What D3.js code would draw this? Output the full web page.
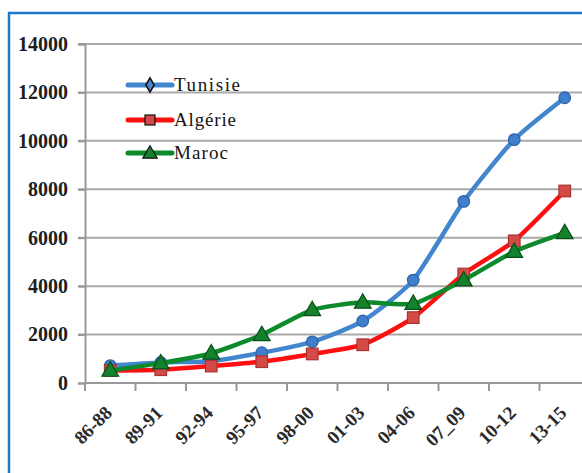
<!DOCTYPE html>
<html>
<head>
<meta charset="utf-8">
<script src="https://cdn.jsdelivr.net/npm/d3@7"></script>
<style>
  html, body { margin: 0; padding: 0; background: #fff; }
  svg { display: block; }
</style>
</head>
<body>
<svg id="chart" width="582" height="473"></svg>
<script>
// Periods (three-year averages)
const periods = ["86-88", "89-91", "92-94", "95-97", "98-00", "01-03", "04-06", "07_09", "10-12", "13-15"];

// Series values
const tunisie = [720, 850, 900, 1250, 1700, 2560, 4250, 7500, 10050, 11780];
const algerie = [520, 550, 700, 880, 1200, 1580, 2700, 4500, 5870, 7930];
const maroc   = [520, 820, 1230, 1990, 3020, 3330, 3280, 4250, 5430, 6200];

// Y axis ticks
const yTicks = [0, 2000, 4000, 6000, 8000, 10000, 12000, 14000];

const seriesNames = ["Tunisie", "Algérie", "Maroc"];

const series = [
  { name: seriesNames[0], values: tunisie, color: "#4286cd", mark: "circle",   fill: "#3f7fcb", stroke: "#2d62a6" },
  { name: seriesNames[1], values: algerie, color: "#ff1010", mark: "square",   fill: "#d44a47", stroke: "#a83431" },
  { name: seriesNames[2], values: maroc,   color: "#0c8a2c", mark: "triangle", fill: "#14822c", stroke: "#0b4d1a" }
];

const serif = "'Liberation Serif', 'DejaVu Serif', serif";
const svg = d3.select("#chart");

// Frame around the chart area
svg.append("rect")
  .attr("x", 9).attr("y", 13)
  .attr("width", 600).attr("height", 500)
  .attr("fill", "none")
  .attr("stroke", "#1f78cf")
  .attr("stroke-width", 2.5);

const x = d3.scaleBand().domain(periods).range([85, 590]);
const y = d3.scaleLinear().domain([0, 14000]).range([383, 44]);

// Horizontal gridlines
svg.append("g").selectAll("line")
  .data(yTicks.filter(d => d > 0))
  .join("line")
  .attr("x1", 78).attr("x2", 582)
  .attr("y1", d => y(d)).attr("y2", d => y(d))
  .attr("stroke", "#a9a9a9")
  .attr("stroke-width", 2);

// Y axis
const yAxis = svg.append("g")
  .attr("transform", "translate(85,0)")
  .call(d3.axisLeft(y).tickValues(yTicks).tickSize(7).tickPadding(10).tickFormat(d3.format("d")));
yAxis.select(".domain").attr("stroke", "#999").attr("stroke-width", 2);
yAxis.selectAll(".tick line").attr("stroke", "#999").attr("stroke-width", 2);
yAxis.selectAll(".tick text")
  .attr("font-family", serif)
  .attr("font-weight", "bold")
  .attr("font-size", 20)
  .attr("fill", "#1e1e1e");

// X axis (category boundaries as ticks)
const xAxisG = svg.append("g").attr("transform", "translate(0,383)");
xAxisG.append("line")
  .attr("x1", 85).attr("x2", 582)
  .attr("stroke", "#999").attr("stroke-width", 2);
xAxisG.selectAll("line.tick")
  .data(periods.concat(["end"]))
  .join("line")
  .attr("class", "tick")
  .attr("x1", (d, i) => x.range()[0] + i * x.bandwidth())
  .attr("x2", (d, i) => x.range()[0] + i * x.bandwidth())
  .attr("y1", 0).attr("y2", 8)
  .attr("stroke", "#999").attr("stroke-width", 2);

xAxisG.selectAll("text")
  .data(periods)
  .join("text")
  .attr("transform", d => `translate(${x(d) + x.bandwidth() / 2 + 3},${31}) rotate(-45)`)
  .attr("text-anchor", "end")
  .attr("font-family", serif)
  .attr("font-weight", "bold")
  .attr("font-size", 19)
  .attr("fill", "#2a2a2a")
  .text(d => d);

// Lines
const line = d3.line()
  .x((d, i) => x(periods[i]) + x.bandwidth() / 2)
  .y(d => y(d))
  .curve(d3.curveCardinal.tension(0.4));

function drawMark(g, type, cx, cy, s, fill, stroke) {
  if (type === "circle") {
    g.append("circle").attr("cx", cx).attr("cy", cy).attr("r", s)
      .attr("fill", fill).attr("stroke", stroke).attr("stroke-width", 1.2);
  } else if (type === "square") {
    g.append("rect").attr("x", cx - s).attr("y", cy - s)
      .attr("width", 2 * s).attr("height", 2 * s)
      .attr("fill", fill).attr("stroke", stroke).attr("stroke-width", 1.2);
  } else {
    const sym = d3.symbol().type(d3.symbolTriangle).size(s * s * 3.6);
    g.append("path").attr("d", sym())
      .attr("transform", `translate(${cx},${cy + 1})`)
      .attr("fill", fill).attr("stroke", stroke).attr("stroke-width", 1.2);
  }
}

series.forEach(s => {
  const g = svg.append("g");
  g.append("path")
    .datum(s.values)
    .attr("d", line)
    .attr("fill", "none")
    .attr("stroke", s.color)
    .attr("stroke-width", 4.5)
    .attr("stroke-linejoin", "round");
  s.values.forEach((v, i) => {
    drawMark(g, s.mark, x(periods[i]) + x.bandwidth() / 2, y(v), 5.8, s.fill, s.stroke);
  });
});

// Legend
const legend = svg.append("g");
const legendY = [85, 120, 153];
series.forEach((s, i) => {
  const ly = legendY[i];
  legend.append("line")
    .attr("x1", 128).attr("x2", 172)
    .attr("y1", ly).attr("y2", ly)
    .attr("stroke", s.color)
    .attr("stroke-width", 5)
    .attr("stroke-linecap", "round");
  if (i === 0) {
    const sym = d3.symbol().type(d3.symbolDiamond).size(60);
    legend.append("path").attr("d", sym())
      .attr("transform", `translate(150,${ly})`)
      .attr("fill", "#4a86c8").attr("stroke", "#111").attr("stroke-width", 1.5);
  } else {
    drawMark(legend, s.mark, 150, ly, 5, s.fill, "#111");
  }
  legend.append("text")
    .attr("x", 174).attr("y", ly + 6)
    .attr("font-family", serif)
    .attr("font-size", 19)
    .attr("fill", "#141414")
    .attr("textLength", i === 0 ? 66 : (i === 1 ? 62 : 54))
    .text(s.name);
});
</script>
</body>
</html>
